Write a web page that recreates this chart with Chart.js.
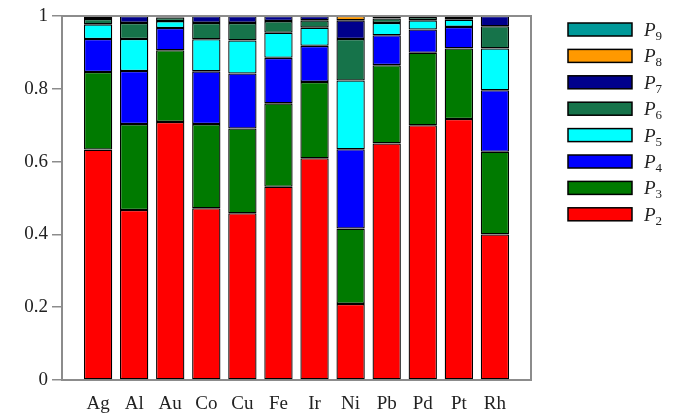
<!DOCTYPE html>
<html>
<head>
<meta charset="utf-8">
<script src="https://cdn.jsdelivr.net/npm/chart.js@4.4.1/dist/chart.umd.min.js"></script>
<style>
  html, body { margin: 0; padding: 0; background: #fff; }
  #wrap { width: 681px; height: 415px; }
</style>
</head>
<body>
<div id="wrap"><canvas id="chart"></canvas></div>
<script>
// fractions per metal, one array per P_n
const metals = ['Ag', 'Al', 'Au', 'Co', 'Cu', 'Fe', 'Ir', 'Ni', 'Pb', 'Pd', 'Pt', 'Rh'];

const p2 = [0.633, 0.467, 0.709, 0.472, 0.458, 0.531, 0.609, 0.209, 0.650, 0.700, 0.717, 0.400];
const p3 = [0.213, 0.236, 0.197, 0.231, 0.233, 0.229, 0.210, 0.207, 0.215, 0.199, 0.194, 0.227];
const p4 = [0.091, 0.146, 0.061, 0.145, 0.151, 0.125, 0.099, 0.218, 0.082, 0.064, 0.059, 0.169];
const p5 = [0.040, 0.088, 0.019, 0.088, 0.091, 0.069, 0.050, 0.189, 0.034, 0.025, 0.020, 0.115];
const p6 = [0.015, 0.044, 0.010, 0.045, 0.048, 0.032, 0.020, 0.114, 0.012, 0.009, 0.007, 0.061];
const p7 = [0.005, 0.019, 0.004, 0.019, 0.019, 0.014, 0.012, 0.051, 0.004, 0.000, 0.000, 0.028];
const p8 = [0.000, 0.000, 0.000, 0.000, 0.000, 0.000, 0.000, 0.012, 0.000, 0.000, 0.000, 0.000];
const p9 = [0.003, 0.000, 0.000, 0.000, 0.000, 0.000, 0.000, 0.000, 0.003, 0.003, 0.003, 0.000];

const subscripts = ['2', '3', '4', '5', '6', '7', '8', '9'];
const colors = ['#ff0000', '#007a00', '#0000ff', '#00ffff', '#16734a', '#00008c', '#ff9900', '#009999'];
const yTicks = [0, 0.2, 0.4, 0.6, 0.8, 1];

const AXIS = '#8c8c8c';
const INK = '#222';
const FONT = '"Liberation Serif", "DejaVu Serif", serif';

// top and right edges of the frame
const frame = {
    id: 'frame',
    afterDraw ( chart ) {
        const { ctx, chartArea: a } = chart;
        ctx.save();
        ctx.strokeStyle = AXIS;
        ctx.lineWidth = 2;
        ctx.beginPath();
        ctx.moveTo( a.left, a.top );
        ctx.lineTo( a.right, a.top );
        ctx.lineTo( a.right, a.bottom );
        ctx.stroke();
        ctx.restore();
    }
};

// legend on the right, P9 at the top down to P2
const sideLegend = {
    id: 'sideLegend',
    afterDraw ( chart ) {
        const ctx = chart.ctx;
        const sets = chart.data.datasets;
        ctx.save();
        for ( let i = 0; i < sets.length; i++ ) {
            const ds = sets[ sets.length - 1 - i ];
            const y = 23 + i * 26.4;
            ctx.fillStyle = ds.backgroundColor;
            ctx.fillRect( 568, y, 64, 13 );
            ctx.strokeStyle = '#000';
            ctx.lineWidth = 1.5;
            ctx.strokeRect( 568, y, 64, 13 );

            ctx.fillStyle = INK;
            ctx.textBaseline = 'alphabetic';
            ctx.font = 'italic 19px ' + FONT;
            ctx.fillText( 'P', 644, y + 13 );
            const w = ctx.measureText( 'P' ).width;
            ctx.font = '13px ' + FONT;
            ctx.fillText( ds.sub, 644 + w, y + 17 );
        }
        ctx.restore();
    }
};

const series = [ p2, p3, p4, p5, p6, p7, p8, p9 ];

const datasets = series.map( ( values, k ) => ( {
    label: 'P' + subscripts[ k ],
    sub: subscripts[ k ],
    data: values.map( ( v, i ) => ( { x: i, y: v } ) ),
    backgroundColor: colors[ k ],
    borderColor: '#000',
    borderWidth: 1.3,
    borderSkipped: false,
    barPercentage: 0.785,
    categoryPercentage: 1
} ) );

new Chart( document.getElementById( 'chart' ), {
    type: 'bar',
    data: { datasets },
    options: {
        responsive: true,
        maintainAspectRatio: false,
        animation: false,
        layout: { padding: { top: 16, right: 150, left: 0, bottom: 0 } },
        plugins: {
            legend: { display: false },
            tooltip: { enabled: false }
        },
        scales: {
            x: {
                type: 'linear',
                stacked: true,
                offset: false,
                min: -1,
                max: 12,
                afterBuildTicks ( scale ) {
                    scale.ticks = metals.map( ( m, i ) => ( { value: i } ) );
                },
                afterFit ( scale ) { scale.height = 35; },
                grid: { display: false },
                border: { color: AXIS, width: 2 },
                ticks: {
                    padding: 5,
                    color: INK,
                    font: { family: FONT, size: 19 },
                    autoSkip: false,
                    maxRotation: 0,
                    callback: ( v ) => metals[ v ] ?? ''
                }
            },
            y: {
                stacked: true,
                min: 0,
                max: 1,
                afterBuildTicks ( scale ) {
                    scale.ticks = yTicks.map( v => ( { value: v } ) );
                },
                afterFit ( scale ) { scale.width = 62; },
                grid: { drawOnChartArea: false, tickLength: 10, color: AXIS, lineWidth: 1.5 },
                border: { color: AXIS, width: 2 },
                ticks: {
                    padding: 4,
                    color: INK,
                    font: { family: FONT, size: 19 },
                    callback: ( v ) => String( +v.toFixed( 1 ) )
                }
            }
        }
    },
    plugins: [ frame, sideLegend ]
} );
</script>
</body>
</html>
